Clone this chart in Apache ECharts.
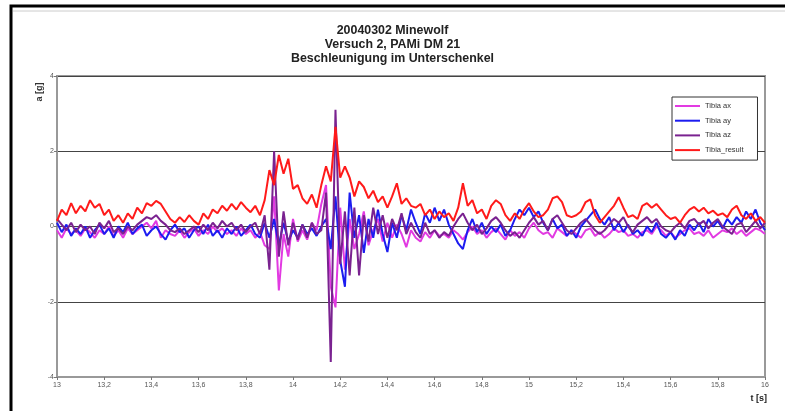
<!DOCTYPE html>
<html><head><meta charset="utf-8">
<script src="https://cdn.jsdelivr.net/npm/echarts@6/dist/echarts.min.js"></script>
<style>html,body{margin:0;padding:0;background:#fff}#c{width:785px;height:411px}</style>
</head><body><div id="c"></div>
<script>
// ---- data ----
const titleLines = ['20040302 Minewolf', 'Versuch 2, PAMi DM 21', 'Beschleunigung im Unterschenkel'];
const seriesNames = ['Tibia ax', 'Tibia ay', 'Tibia az', 'Tibia_result'];
const yAxisTitle = 'a [g]';
const xAxisTitle = 't [s]';
const tStart = 13, tStep = 0.02;   // sample times of the value arrays
const xMin = 13, xMax = 16, xInterval = 0.2;
const yMin = -4, yMax = 4, yInterval = 2;

const tibiaAx = [
  -0.1,-0.3,-0.05,-0.2,-0.1,-0.25,-0.05,-0.15,-0.3,-0.1,
  -0.2,0.0,-0.25,-0.1,-0.3,-0.05,-0.2,-0.1,0.0,0.1,
  -0.05,0.15,-0.3,-0.1,-0.2,-0.25,-0.1,-0.3,-0.15,-0.05,
  -0.25,-0.1,-0.2,0.0,-0.15,-0.05,-0.2,-0.1,-0.25,-0.05,
  -0.2,-0.1,-0.3,-0.15,-0.5,
  -0.6,0.8,-1.7,-0.2,-0.8,0.2,-0.4,-0.1,-0.35,0.1,
  -0.1,0.6,1.1,-1.6,-2.15,0.5,-1.15,0.2,-0.6,-0.2,
  0.4,-0.5,-0.1,0.2,-0.4,0.1,-0.3,0.05,-0.2,-0.55,
  -0.1,-0.3,
  -0.4,-0.15,-0.3,-0.1,-0.25,-0.2,-0.3,-0.1,-0.2,-0.35,
  -0.15,0.0,-0.2,-0.1,-0.3,-0.15,-0.05,-0.2,-0.35,-0.1,
  -0.25,-0.15,-0.3,-0.05,0.1,-0.1,-0.2,-0.15,-0.3,-0.05,
  -0.15,-0.25,-0.1,-0.2,-0.3,-0.1,-0.05,-0.25,-0.15,-0.3,
  -0.2,-0.05,-0.15,-0.1,-0.25,-0.2,-0.3,-0.15,-0.1,-0.2,
  0.0,-0.1,-0.25,-0.15,-0.3,-0.2,-0.1,-0.05,-0.2,-0.15,
  -0.25,-0.1,-0.3,-0.2,-0.1,-0.15,-0.05,-0.2,-0.1,-0.25,
  -0.15,-0.05,-0.1,-0.2
];
const tibiaAy = [
  0.1,-0.15,0.05,-0.25,-0.05,-0.2,0.0,-0.3,-0.1,0.05,
  -0.2,-0.05,-0.3,0.0,-0.15,0.1,-0.2,-0.05,0.05,-0.25,
  -0.1,0.0,-0.2,-0.35,-0.1,0.05,-0.15,-0.05,-0.3,-0.1,
  0.0,-0.2,0.05,-0.25,-0.1,-0.3,-0.05,-0.2,0.0,-0.25,
  -0.1,0.05,-0.2,-0.3,0.1,
  -0.3,0.2,-0.5,0.1,-0.4,-0.1,-0.3,0.05,-0.2,-0.05,
  -0.25,0.0,0.2,-0.6,0.8,-0.9,-1.6,0.9,-0.3,0.3,
  -0.7,0.2,-0.3,0.45,-0.2,-0.68,0.1,-0.3,0.3,-0.1,
  0.45,0.1,
  -0.2,0.35,0.1,0.5,0.15,0.45,0.05,-0.2,-0.45,-0.6,
  -0.1,0.2,-0.15,0.1,-0.2,0.0,-0.15,0.05,-0.25,-0.1,
  0.2,0.45,0.3,0.5,0.25,0.4,0.1,-0.1,0.2,-0.05,
  0.05,-0.25,-0.1,-0.3,0.0,0.15,0.3,0.45,0.2,0.05,
  0.25,-0.1,0.1,-0.15,0.05,-0.2,-0.1,-0.25,0.0,-0.15,
  0.1,-0.2,-0.3,-0.15,-0.35,-0.1,-0.25,0.05,-0.1,0.1,
  -0.15,0.2,0.0,0.15,-0.05,0.2,0.05,0.25,0.1,0.4,
  0.2,0.45,0.1,-0.1
];
const tibiaAz = [
  0.2,0.05,-0.1,0.1,-0.15,0.05,-0.1,0.0,-0.2,0.1,
  -0.05,0.15,-0.15,-0.05,-0.2,0.0,-0.1,0.05,0.15,0.25,
  0.2,0.3,0.15,0.05,-0.1,-0.15,-0.05,-0.2,-0.1,0.0,
  -0.15,0.05,-0.1,0.1,-0.05,0.15,0.0,0.1,-0.1,0.05,
  -0.15,0.0,0.1,-0.2,0.3,
  -1.15,2.0,-0.8,0.4,-0.5,0.1,-0.35,0.05,-0.3,0.1,
  -0.2,-0.1,0.9,-3.6,3.1,-1.0,0.4,-1.3,0.5,-1.3,
  0.3,-0.4,0.5,-0.2,0.3,-0.3,0.2,-0.1,0.35,-0.2,
  0.1,-0.15,
  -0.3,0.1,-0.2,-0.1,-0.3,-0.15,-0.25,0.0,0.2,0.35,
  0.1,-0.1,0.05,-0.2,-0.05,0.15,0.25,0.1,-0.1,-0.25,
  -0.15,-0.3,-0.1,0.1,0.25,0.05,0.15,-0.1,0.2,0.3,
  0.1,-0.1,-0.2,-0.05,0.1,0.2,0.05,-0.1,-0.2,-0.1,
  0.05,0.2,0.1,0.25,0.0,-0.15,0.05,0.15,0.25,0.1,
  0.2,0.0,-0.1,-0.15,0.0,0.1,-0.05,0.15,0.2,0.05,
  0.15,-0.05,0.1,0.2,0.0,-0.1,-0.2,0.05,0.1,-0.15,
  0.0,0.15,-0.05,0.1
];
const tibiaResult = [
  0.15,0.45,0.3,0.62,0.35,0.55,0.4,0.7,0.5,0.6,
  0.3,0.45,0.15,0.3,0.1,0.35,0.2,0.5,0.35,0.62,
  0.55,0.68,0.6,0.4,0.2,0.1,0.25,0.12,0.3,0.15,
  0.05,0.35,0.2,0.45,0.35,0.55,0.42,0.6,0.45,0.65,
  0.5,0.38,0.55,0.3,0.7,
  1.5,1.1,1.9,1.4,1.8,1.0,1.1,0.75,0.6,0.85,
  0.5,1.1,1.6,1.2,2.65,1.3,1.6,1.3,0.8,1.2,
  1.05,0.75,0.95,0.65,0.8,0.5,0.8,1.15,0.6,0.75,
  0.55,0.5,
  0.6,0.3,0.45,0.2,0.4,0.25,0.35,0.15,0.5,1.15,
  0.55,0.7,0.35,0.45,0.2,0.55,0.7,0.6,0.3,0.15,
  0.35,0.2,0.45,0.62,0.4,0.25,0.3,0.45,0.75,0.8,
  0.65,0.3,0.25,0.3,0.4,0.65,0.72,0.3,0.1,0.25,
  0.4,0.55,0.78,0.5,0.25,0.3,0.2,0.55,0.62,0.5,
  0.6,0.45,0.3,0.2,0.25,0.1,0.3,0.45,0.52,0.4,
  0.5,0.35,0.42,0.3,0.35,0.25,0.45,0.55,0.3,0.2,
  0.35,0.15,0.25,0.1
];
const seriesValues = [tibiaAx, tibiaAy, tibiaAz, tibiaResult];
const seriesColors = ['#e23ae2', '#1c1cf0', '#7a2290', '#ff1a1a'];

// ---- chart ----
function pairs(vals) {
  return vals.map((v, i) => [+(tStart + i * tStep).toFixed(3), v]);
}
function fmtComma(v) {
  let s = (+v.toFixed(1)).toString();
  return s.replace('.', ',');
}
const FONT = 'Liberation Sans, Arial, sans-serif';
const chart = echarts.init(document.getElementById('c'), null, {renderer: 'canvas'});
chart.setOption({
  animation: false,
  backgroundColor: '#fff',
  title: {
    text: titleLines.join('\n'),
    left: 'center',
    top: 19,
    textStyle: {fontFamily: FONT, fontSize: 12.4, fontWeight: 'bold', color: '#222', lineHeight: 13.8}
  },
  legend: {
    orient: 'vertical',
    left: 672, top: 97,
    data: seriesNames,
    icon: 'rect',
    itemWidth: 25, itemHeight: 2, itemGap: 4.7,
    padding: [4, 14, 5, 3],
    borderColor: '#333', borderWidth: 1,
    backgroundColor: '#fff',
    textStyle: {fontFamily: FONT, fontSize: 7.5, color: '#333', lineHeight: 10}
  },
  grid: {left: 57, right: 20, top: 76, bottom: 34, show: true, borderColor: '#999', borderWidth: 2},
  xAxis: {
    type: 'value', min: xMin, max: xMax, interval: xInterval,
    axisLine: {onZero: false, lineStyle: {color: '#999', width: 2}},
    axisTick: {show: true, length: 3, lineStyle: {color: '#777'}},
    axisLabel: {fontSize: 7, color: '#555', margin: 5, formatter: fmtComma, showMinLabel: true, showMaxLabel: true, fontFamily: FONT},
    splitLine: {show: false}
  },
  yAxis: {
    type: 'value', min: yMin, max: yMax, interval: yInterval,
    axisLine: {show: true, onZero: false, lineStyle: {color: '#999', width: 2}},
    axisTick: {show: true, length: 3, lineStyle: {color: '#777'}},
    axisLabel: {fontSize: 7, color: '#555', margin: 3, fontFamily: FONT},
    splitLine: {show: true, lineStyle: {color: '#444', width: 1}}
  },
  series: seriesNames.map((n, k) => ({
    name: n, type: 'line', data: pairs(seriesValues[k]),
    symbol: 'none', lineStyle: {color: seriesColors[k], width: 2},
    itemStyle: {color: seriesColors[k]}, z: 2 + k
  })),
  graphic: [
    {type: 'rect', shape: {x: 11, y: 6, width: 800, height: 440}, style: {fill: 'none', stroke: '#000', lineWidth: 3}, silent: true},
    {type: 'line', shape: {x1: 13, y1: 11, x2: 785, y2: 11}, style: {stroke: '#ccc', lineWidth: 1}, silent: true},
    {type: 'text', x: 40, y: 92, rotation: Math.PI / 2,
      style: {text: yAxisTitle, font: 'bold 9px ' + FONT, fill: '#333', textAlign: 'center', textVerticalAlign: 'middle'}},
    {type: 'text', x: 767, y: 399,
      style: {text: xAxisTitle, font: 'bold 9px ' + FONT, fill: '#222', textAlign: 'right', textVerticalAlign: 'middle'}}
  ]
});
</script>
</body></html>
